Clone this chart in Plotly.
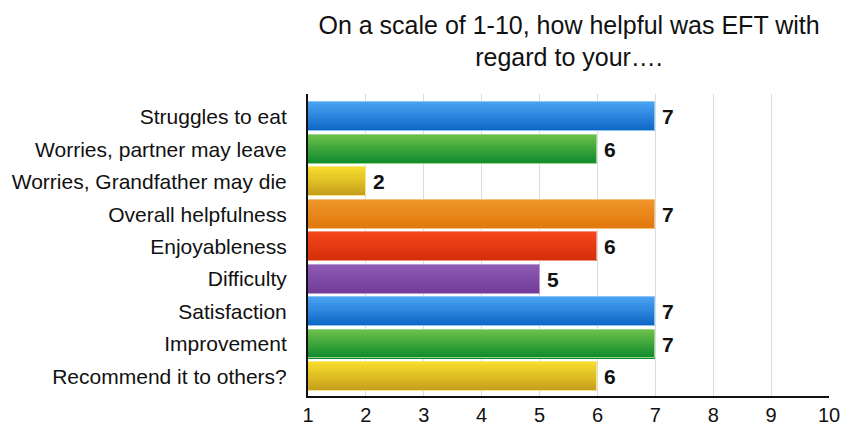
import plotly.graph_objects as go

categories = ["Struggles to eat", "Worries, partner may leave", "Worries, Grandfather may die",
              "Overall helpfulness", "Enjoyableness", "Difficulty", "Satisfaction",
              "Improvement", "Recommend it to others?"]
values = [7, 6, 2, 7, 6, 5, 7, 7, 6]
tick_vals = [1, 2, 3, 4, 5, 6, 7, 8, 9, 10]

top_colors = ["#4aa3f2", "#6cc04a", "#f8de2c", "#f0962a", "#f6461c", "#8e5ab4", "#4aa3f2", "#6cc04a", "#f8de2c"]
bot_colors = ["#0a64c4", "#0c8a2c", "#c49c1c", "#e0780c", "#d22e08", "#703c98", "#0a64c4", "#0c8a2c", "#c49c1c"]
edge_colors = ["#8cc4f4", "#9ad68a", "#f6e88a", "#f4c07c", "#f4907c", "#b89ad0", "#8cc4f4", "#9ad68a", "#f6e88a"]

BASE = 1
BAR_W = 0.89
N = 14
FONT = "Liberation Sans, Arial, Helvetica, sans-serif"


def hex2rgb(h):
    h = h.lstrip("#")
    return tuple(int(h[i:i + 2], 16) for i in (0, 2, 4))


def mix(a, b, t):
    ra, rb = hex2rgb(a), hex2rgb(b)
    return "rgb(%d,%d,%d)" % tuple(round(ra[k] + (rb[k] - ra[k]) * t) for k in range(3))


fig = go.Figure()
sw = BAR_W / N
for i in range(N):
    t = (i + 0.5) / N
    fig.add_trace(go.Bar(
        y=categories, x=[v - BASE for v in values], base=BASE, orientation="h",
        width=sw * 1.06, offset=-BAR_W / 2 + i * sw,
        marker=dict(color=[mix(a, b, t) for a, b in zip(top_colors, bot_colors)], line=dict(width=0)),
        hoverinfo="skip", showlegend=False,
    ))

# outline
fig.add_trace(go.Bar(
    y=categories, x=[v - BASE for v in values], base=BASE, orientation="h",
    width=BAR_W, offset=-BAR_W / 2,
    marker=dict(color="rgba(0,0,0,0)", line=dict(color=edge_colors, width=1)),
    showlegend=False, hovertemplate="%{y}: %{x}<extra></extra>",
))

# value labels
for c, v in zip(categories, values):
    fig.add_annotation(
        x=v, y=c, text="<b>%d</b>" % v, showarrow=False,
        xanchor="left", yanchor="middle", xshift=5,
        font=dict(family=FONT, size=21, color="#111111"),
    )

fig.update_layout(
    width=843, height=425,
    margin=dict(l=308, r=14, t=94, b=29),
    paper_bgcolor="white", plot_bgcolor="white",
    barmode="overlay", bargap=0,
    font=dict(family=FONT, color="#111111"),
    title=dict(text="On a scale of 1-10, how helpful was EFT with<br>regard to your….",
               x=0.675, xanchor="center", y=0.921, yanchor="top",
               font=dict(size=25, color="#111111")),
    xaxis=dict(range=[1, 10], tickvals=tick_vals, ticktext=[str(v) for v in tick_vals],
               showgrid=True, gridcolor="#dcdcdc", gridwidth=1,
               showline=True, linecolor="#111111", linewidth=2,
               zeroline=False, ticks="", tickfont=dict(size=20), ticklabelstandoff=0,
               automargin=False, fixedrange=True),
    yaxis=dict(categoryorder="array", categoryarray=categories,
               range=[8.6, -0.7], showgrid=False,
               showline=True, linecolor="#111111", linewidth=2,
               ticks="", tickfont=dict(size=21), ticklabelstandoff=15,
               automargin=False, fixedrange=True),
)

fig.write_html("out.html", config={"displayModeBar": False},
               post_script="document.body.style.margin='0';")
